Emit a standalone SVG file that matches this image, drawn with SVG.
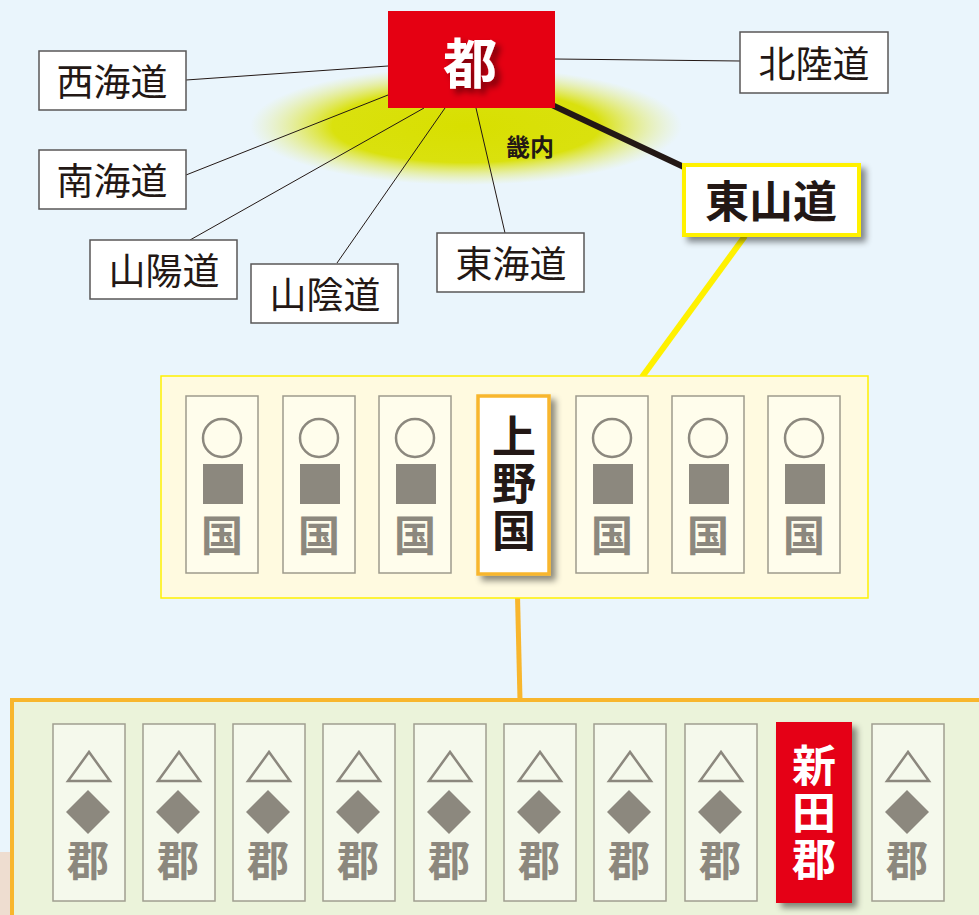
<svg xmlns="http://www.w3.org/2000/svg" width="979" height="915" viewBox="0 0 979 915">
<style>
.lbl{fill:#fff;stroke:#595757;stroke-width:1.5}
.lt{font-family:"Noto Sans CJK JP","Noto Sans",sans-serif;font-size:37px;fill:#231815;text-anchor:middle;dominant-baseline:central}
.bt{font-family:"Noto Sans CJK JP","Noto Sans",sans-serif;font-weight:bold;text-anchor:middle;dominant-baseline:central}
.vt{font-family:"Noto Sans CJK JP","Noto Sans",sans-serif;font-weight:bold;font-size:44px;text-anchor:middle;writing-mode:vertical-rl;letter-spacing:3px}
.ln{stroke:#231815;stroke-width:1;fill:none}
.kc{fill:#FFFDEC;stroke:#9E9A8C;stroke-width:1.5}
.gc{fill:#F5F9EC;stroke:#A09E90;stroke-width:1.5}
.gr{fill:#8C887E}
.gt{font-family:"Noto Sans CJK JP","Noto Sans",sans-serif;font-weight:bold;font-size:42px;fill:#8C887E;text-anchor:middle;dominant-baseline:central}
</style>
<defs>
<radialGradient id="glow" cx="0.5" cy="0.5" r="0.5">
<stop offset="0" stop-color="#D8DF00"/>
<stop offset="0.62" stop-color="#DAE10E"/>
<stop offset="1" stop-color="#E6EC80" stop-opacity="0"/>
</radialGradient>
<filter id="sh" x="-20%" y="-20%" width="150%" height="150%">
<feDropShadow dx="5" dy="5" stdDeviation="3" flood-color="#000" flood-opacity="0.45"/>
</filter>
<g id="kuni">
<rect class="kc" x="0" y="0" width="72" height="177"/>
<circle cx="36" cy="42" r="19" fill="none" stroke="#8C887E" stroke-width="2.5"/>
<rect class="gr" x="17" y="68" width="40" height="40"/>
<text class="gt" x="36" y="136">国</text>
</g>
<g id="gun">
<rect class="gc" x="0" y="0" width="72" height="177"/>
<polygon points="36,28 15,57 57,57" fill="none" stroke="#8C887E" stroke-width="2.5"/>
<polygon class="gr" points="35,66 57,88 35,110 13,88"/>
<text class="gt" x="35" y="133">郡</text>
</g>
</defs>
<rect x="0" y="0" width="979" height="915" fill="#EAF5FC"/>
<rect x="0" y="852" width="12" height="63" fill="#EEDDD0"/>

<ellipse cx="466" cy="126" rx="216" ry="59" fill="url(#glow)"/>

<g id="connectors">
<line class="ln" x1="186" y1="80" x2="388" y2="66"/>
<line class="ln" x1="186" y1="175" x2="388" y2="95"/>
<line class="ln" x1="190" y1="240" x2="424" y2="108"/>
<line class="ln" x1="337" y1="263" x2="445" y2="108"/>
<line class="ln" x1="505" y1="233" x2="476" y2="108"/>
<line class="ln" x1="555" y1="59" x2="740" y2="61"/>
<line x1="552" y1="105" x2="686" y2="168" stroke="#231815" stroke-width="6"/>
<line x1="745" y1="236" x2="642" y2="377" stroke="#FFF100" stroke-width="6"/>
<line x1="517" y1="575" x2="520" y2="700" stroke="#F8B62D" stroke-width="5"/>
</g>

<g id="miyako">
<rect x="388" y="11" width="167" height="97" fill="#E50012"/>
<text class="bt" x="470" y="60" font-size="54" fill="#fff" filter="url(#sh)">都</text>
</g>
<g id="kinai">
<text class="bt" x="530" y="145" font-size="24" fill="#231815">畿内</text>
</g>

<g id="saikaido"><rect class="lbl" x="39" y="51" width="147" height="59"/><text class="lt" x="112" y="80">西海道</text></g>
<g id="nankaido"><rect class="lbl" x="39" y="150" width="147" height="59"/><text class="lt" x="112" y="179">南海道</text></g>
<g id="sanyodo"><rect class="lbl" x="90" y="240" width="147" height="59"/><text class="lt" x="164" y="269">山陽道</text></g>
<g id="saindo"><rect class="lbl" x="251" y="264" width="147" height="59"/><text class="lt" x="325" y="293">山陰道</text></g>
<g id="tokaido"><rect class="lbl" x="437" y="233" width="147" height="59"/><text class="lt" x="511" y="262">東海道</text></g>
<g id="hokurikudo"><rect class="lbl" x="740" y="32" width="148" height="61"/><text class="lt" x="814" y="62">北陸道</text></g>

<g id="tosando">
<rect x="684" y="165" width="175" height="70" fill="#fff" stroke="#FFF100" stroke-width="4" filter="url(#sh)"/>
<text class="bt" x="771" y="199" font-size="44" fill="#231815">東山道</text>
</g>

<g id="kuni-row">
<rect x="161" y="376" width="707" height="222" fill="#FFFAE0" stroke="#FFF100" stroke-width="1.5"/>
<use href="#kuni" x="186" y="396"/>
<use href="#kuni" x="283" y="396"/>
<use href="#kuni" x="379" y="396"/>
<use href="#kuni" x="576" y="396"/>
<use href="#kuni" x="672" y="396"/>
<use href="#kuni" x="768" y="396"/>
</g>
<g id="kozuke">
<rect x="478" y="396" width="71" height="178" fill="#fff" stroke="#F8B62D" stroke-width="3.5" filter="url(#sh)"/>
<text class="vt" x="514" y="485" fill="#231815">上野国</text>
</g>

<g id="gun-row">
<rect x="12" y="700" width="975" height="230" fill="#EBF3DA" stroke="#F8B62D" stroke-width="4"/>
<use href="#gun" x="53" y="724"/>
<use href="#gun" x="143" y="724"/>
<use href="#gun" x="233" y="724"/>
<use href="#gun" x="323" y="724"/>
<use href="#gun" x="414" y="724"/>
<use href="#gun" x="504" y="724"/>
<use href="#gun" x="594" y="724"/>
<use href="#gun" x="685" y="724"/>
<use href="#gun" x="872" y="724"/>
</g>
<g id="nitta">
<rect x="776" y="722" width="76" height="181" fill="#E50012" filter="url(#sh)"/>
<text class="vt" x="814" y="814" fill="#fff">新田郡</text>
</g>
</svg>
